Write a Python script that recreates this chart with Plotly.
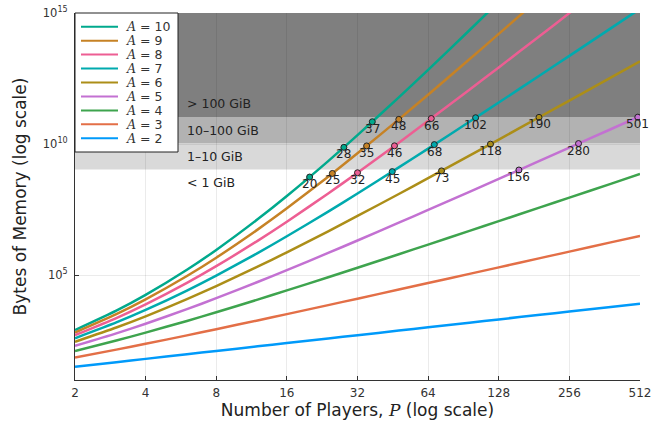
import math
import plotly.graph_objects as go

# ---------------- data ----------------
players = [2, 3, 4, 6, 8, 12, 16, 24, 32, 48, 64, 96, 128, 192, 256, 384, 512]

mem_A2 = [32, 48, 64, 96, 128, 192, 256, 384, 512, 768, 1024, 1536, 2048, 3072, 4096, 6144, 8192]
mem_A3 = [72, 144, 240, 504, 864, 1872, 3264, 7200, 12672, 28224, 49920, 111744, 198144, 444672,
          789504, 1774080, 3151872]
mem_A4 = [128, 320, 640, 1792, 3840, 11648, 26112, 83200, 191488, 627200, 1464320, 4867072,
          11448320, 38340608, 90529792, 304353280, 720027648]
mem_A5 = [200, 600, 1400, 5040, 13200, 54600, 155040, 702000, 2094400, 9996000, 30659200,
          150575040, 468665600, 2336380800, 7327255040, 36807724800, 115879449600]
mem_A6 = [288, 1008, 2688, 12096, 38016, 209664, 744192, 4717440, 18095616, 124750080, 500358144,
          3613800960, 14847326208, 109903352832, 457220714496, 3.427535e12, 1.435051e13]
mem_A7 = [392, 1568, 4704, 25872, 96096, 693056, 3038784, 26601120, 130187904, 1285618880,
          6713138432, 70971035520, 383968352768, 4.20991e12, 2.320395e13, 2.59255e14, 1.442625e15]
mem_A8 = [512, 2304, 7680, 50688, 219648, 2036736, 10914816, 130291200, 807696384, 11334435840,
          76721582080, 1.181885e12, 8.40029e12, 1.360918e14, 9.92561e14, 1.650767e16]
mem_A9 = [648, 3240, 11880, 92664, 463320, 5441904, 35302608, 567988200, 4429709856, 87664777200,
          7.66017e11, 1.711887e13, 1.594742e14, 3.80844e15]
mem_A10 = [800, 4400, 17600, 160160, 915200, 13436800, 104600320, 2243904000, 21875110400,
           606077472000, 6.80904e12, 2.197978e14, 2.677592e15]

series_A = [10, 9, 8, 7, 6, 5, 4, 3, 2]
series_mem = [mem_A10, mem_A9, mem_A8, mem_A7, mem_A6, mem_A5, mem_A4, mem_A3, mem_A2]
series_colors = ["#00A98D", "#C68225", "#ED5E93", "#00AAAE", "#AC8E18",
                 "#C371D2", "#3EA44E", "#E36F47", "#009AFA"]

# largest P under each memory limit
limit_A = [10, 10, 10, 9, 9, 9, 8, 8, 8, 7, 7, 7, 6, 6, 6, 5, 5, 5]
limit_P = [20, 28, 37, 25, 35, 48, 32, 46, 66, 45, 68, 102, 73, 118, 190, 156, 280, 501]
limit_mem = [552552000, 7531462400, 70893050800,
             757317600, 8498173320, 87664777200,
             807696384, 8562211840, 94279021056,
             889879200, 9532905312, 101205754832,
             948375120, 9949824192, 104353549824,
             1025480040, 10465226800, 106264625040]

GIB = 2 ** 30
band_lo = [1 * GIB, 10 * GIB, 100 * GIB]
band_hi = [10 * GIB, 100 * GIB, 1e15]
band_alpha = [0.15, 0.3, 0.5]
band_labels = ["< 1 GiB", "1\u201310 GiB", "10\u2013100 GiB", "> 100 GiB"]
band_label_gib = [1, 1, 10, 100]   # reference level for label position

x_ticks = [2, 4, 8, 16, 32, 64, 128, 256, 512]
y_ticks = [1e5, 1e10, 1e15]
y_ticktext = ["10<sup>5</sup>", "10<sup>10</sup>", "10<sup>15</sup>"]

# ---------------- figure ----------------
fig = go.Figure()
FONT = "DejaVu Sans"
SERIF = "DejaVu Serif"

for A, mem, col in zip(series_A, series_mem, series_colors):
    fig.add_trace(go.Scatter(
        x=players[:len(mem)], y=mem, mode="lines",
        line=dict(color=col, width=2.5, shape="spline", smoothing=0.6),
        name=f"A = {A}", showlegend=False,
    ))

col_of = dict(zip(series_A, series_colors))
fig.add_trace(go.Scatter(
    x=limit_P, y=limit_mem, mode="markers",
    marker=dict(size=6, color=[col_of[a] for a in limit_A],
                line=dict(color="#222222", width=1)),
    showlegend=False, hoverinfo="skip",
))

annotations = []
for p, m in zip(limit_P, limit_mem):
    annotations.append(dict(
        x=math.log10(p), y=math.log10(m), xref="x", yref="y",
        text=str(p), showarrow=False, yshift=-7,
        font=dict(family=FONT, size=12, color="#222222"),
    ))

shapes = []
for lo, hi, a in zip(band_lo, band_hi, band_alpha):
    shapes.append(dict(type="rect", xref="paper", x0=0, x1=1, yref="y", y0=lo, y1=hi,
                       fillcolor=f"rgba(0,0,0,{a})", line=dict(width=0), layer="below"))

for i, (lab, g) in enumerate(zip(band_labels, band_label_gib)):
    yv = math.log10(g * GIB) + (-0.5 if i == 0 else 0.5)
    annotations.append(dict(
        x=math.log10(6), y=yv, xref="x", yref="y", text=lab, showarrow=False,
        xanchor="left", yanchor="middle", xshift=-2,
        font=dict(family=FONT, size=12.5, color="#222222"),
    ))

# ---- legend box (drawn in pixels from the top-left corner of the plot) ----
LEG_W, LEG_H = 103, 139
LEG_Y0, LEG_DY = 13.7, 13.95
shapes.append(dict(type="rect", xref="paper", yref="paper", xsizemode="pixel", ysizemode="pixel",
                   xanchor=0, yanchor=1, x0=0, x1=LEG_W, y0=0, y1=-LEG_H,
                   fillcolor="white", line=dict(color="#222222", width=1), layer="above"))
for i, (A, col) in enumerate(zip(series_A, series_colors)):
    yy = -(LEG_Y0 + LEG_DY * i)
    shapes.append(dict(type="line", xref="paper", yref="paper", xsizemode="pixel",
                       ysizemode="pixel", xanchor=0, yanchor=1, x0=6, x1=43, y0=yy, y1=yy,
                       line=dict(color=col, width=2), layer="above"))
    annotations.append(dict(
        x=0, y=1, xref="paper", yref="paper", xshift=49, yshift=yy,
        xanchor="left", yanchor="middle", showarrow=False,
        text=f"<span style='font-family:{SERIF}'><i>A</i></span> = {A}",
        font=dict(family=FONT, size=12.5, color="#333333"),
    ))

fig.update_layout(
    width=663, height=425,
    margin=dict(l=75, r=23, t=13, b=45, autoexpand=False),
    paper_bgcolor="white", plot_bgcolor="white",
    font=dict(family=FONT, color="#222222"),
    shapes=shapes, annotations=annotations,
    showlegend=False,
    xaxis=dict(
        type="log", range=[math.log10(2), math.log10(512)], automargin=False,
        tickvals=x_ticks, ticktext=[str(t) for t in x_ticks],
        ticks="inside", ticklen=4, tickcolor="#333333", ticklabelstandoff=2,
        showline=True, linecolor="#333333", linewidth=1,
        showgrid=True, gridcolor="rgba(0,0,0,0.08)", gridwidth=0.5,
        zeroline=False, tickfont=dict(size=12, color="#333333"),
        title=dict(text=f"Number of Players, <span style='font-family:{SERIF}'><i>P</i></span> (log scale)",
                   font=dict(size=17, color="#222222"), standoff=2),
    ),
    yaxis=dict(
        type="log", range=[1, 15], automargin=False,
        tickvals=y_ticks, ticktext=y_ticktext,
        ticks="inside", ticklen=4, tickcolor="#333333", ticklabelstandoff=4,
        showline=True, linecolor="#333333", linewidth=1,
        showgrid=True, gridcolor="rgba(0,0,0,0.08)", gridwidth=0.5,
        zeroline=False, tickfont=dict(size=11.5, color="#333333"),
        title=dict(text="Bytes of Memory (log scale)",
                   font=dict(size=17, color="#222222"), standoff=11),
    ),
)

fig.write_html("out.html")
